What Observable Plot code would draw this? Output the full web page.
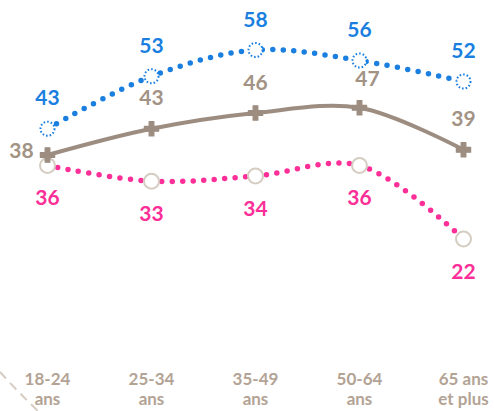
<!DOCTYPE html>
<html>
<head>
<meta charset="utf-8">
<script src="https://cdn.jsdelivr.net/npm/d3@7"></script>
<script src="https://cdn.jsdelivr.net/npm/@observablehq/plot@0.6"></script>
<style>
  html, body { margin: 0; padding: 0; background: #fff; }
  #wrap { position: relative; width: 494px; height: 411px; overflow: hidden; font-family: Lato, "Open Sans", sans-serif; }
  #deco { position: absolute; left: 0; top: 0; pointer-events: none; }
</style>
</head>
<body>
<div id="wrap"></div>
<script>
const ages = ["18-24\nans", "25-34\nans", "35-49\nans", "50-64\nans", "65 ans\net plus"];
const blueValues = [43, 53, 58, 56, 52];
const grayValues = [38, 43, 46, 47, 39];
const pinkValues = [36, 33, 34, 36, 22];

const blue = ages.map((a, i) => ({age: a, v: blueValues[i]}));
const gray = ages.map((a, i) => ({age: a, v: grayValues[i]}));
const pink = ages.map((a, i) => ({age: a, v: pinkValues[i]}));

const BLUE = "#1a7fdf";
const GRAY = "#9d8d81";
const GRAYTXT = "#a29385";
const PINK = "#fb2f97";
const RING = "#d5ccc2";
const FS = 21;

const chart = Plot.plot({
  width: 494,
  height: 411,
  marginLeft: 46,
  marginRight: 31,
  marginTop: 39,
  marginBottom: 57,
  style: {fontFamily: "Lato, 'Open Sans', sans-serif", background: "#fff"},
  x: {type: "point", domain: ages, padding: 0},
  y: {domain: [0, 60], axis: null},
  marks: [
    Plot.axisX({tickSize: 0, tickPadding: 16, fontSize: 17, fontWeight: "bold", fill: "#b3a395", lineHeight: 1.2, label: null}),
    Plot.line(pink, {x: "age", y: "v", curve: "catmull-rom", stroke: PINK, strokeWidth: 5.5, strokeLinecap: "round", strokeDasharray: "0,10.5"}),
    Plot.line(blue, {x: "age", y: "v", curve: "catmull-rom", stroke: BLUE, strokeWidth: 5.5, strokeLinecap: "round", strokeDasharray: "0,10.5"}),
    Plot.line(gray, {x: "age", y: "v", curve: "catmull-rom", stroke: GRAY, strokeWidth: 4}),
    Plot.dot(blue, {x: "age", y: "v", r: 7, fill: "white", stroke: BLUE, strokeWidth: 2, strokeDasharray: "1.6,2"}),
    Plot.dot(pink, {x: "age", y: "v", r: 7.5, fill: "white", stroke: RING, strokeWidth: 2}),
    Plot.dot(gray, {x: "age", y: "v", symbol: "cross", r: 6, fill: GRAY, stroke: GRAY, strokeWidth: 1.2, strokeLinejoin: "round"}),
    Plot.text(blue, {x: "age", y: "v", text: d => String(d.v), dy: -30, fill: BLUE, fontSize: FS, fontWeight: "bold"}),
    Plot.text(gray, {filter: (d, i) => i === 0, x: "age", y: "v", text: d => String(d.v), dx: -26, dy: -4, fill: GRAYTXT, fontSize: FS, fontWeight: "bold"}),
    Plot.text(gray, {filter: (d, i) => i === 1 || i === 2 || i === 4, x: "age", y: "v", text: d => String(d.v), dy: -30, fill: GRAYTXT, fontSize: FS, fontWeight: "bold"}),
    Plot.text(gray, {filter: (d, i) => i === 3, x: "age", y: "v", text: d => String(d.v), dx: 8, dy: -28, fill: GRAYTXT, fontSize: FS, fontWeight: "bold"}),
    Plot.text(pink, {x: "age", y: "v", text: d => String(d.v), dy: 33, fill: PINK, fontSize: FS, fontWeight: "bold"})
  ]
});
document.getElementById("wrap").appendChild(chart);

// decorative dashed arc in lower-left corner
const ns = "http://www.w3.org/2000/svg";
const deco = document.createElementNS(ns, "svg");
deco.setAttribute("id", "deco");
deco.setAttribute("width", 494);
deco.setAttribute("height", 411);
const p = document.createElementNS(ns, "path");
p.setAttribute("d", "M0,372 Q18,392 40,413");
p.setAttribute("fill", "none");
p.setAttribute("stroke", "#d6ccc2");
p.setAttribute("stroke-width", 2);
p.setAttribute("stroke-dasharray", "9,6");
deco.appendChild(p);
document.getElementById("wrap").appendChild(deco);
</script>
</body>
</html>
